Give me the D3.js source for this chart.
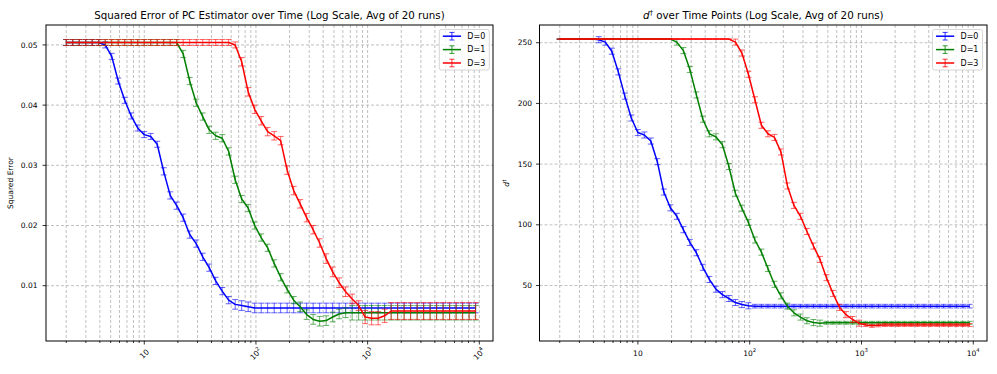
<!DOCTYPE html>
<html><head><meta charset="utf-8">
<script src="https://cdn.jsdelivr.net/npm/d3@7"></script>
<style>body{margin:0;background:#fff} text{font-family:"DejaVu Sans",sans-serif;fill:#000}</style>
</head><body><svg id="c" width="997" height="374"></svg>
<script>
// ---------------- DATA ----------------
const timePoints = [2,2.287,2.615,2.99,3.418,3.908,4.469,5.11,
  5.842,6.68,7.638,8.733,9.985,11.42,13.05,14.92,
  17.06,19.51,22.31,25.51,29.16,33.35,38.13,43.59,
  49.84,56.99,65.16,74.5,85.19,97.4,111.4,127.3,
  145.6,166.5,190.3,217.6,248.8,284.5,325.3,371.9,
  425.3,486.2,556,635.7,726.8,831,950.2,1086,
  1242,1420,1624,1857,2123,2427,2775,3173,
  3628,4148,4743,5423,6201,7090,8106,9269];

const seriesNames = ["D=0","D=1","D=3"];

// Squared error (left panel)
const seD0 = [0.0504,0.0504,0.0504,0.0504,0.0504,0.0504,0.0500,0.0481,
  0.0440,0.0408,0.0382,0.0362,0.0351,0.0348,0.0335,0.0290,
  0.0250,0.0233,0.0213,0.0185,0.0170,0.0148,0.0130,0.0108,
  0.0091,0.0076,0.0069,0.0067,0.0065,0.0063,0.0063,0.0063,
  0.0063,0.0063,0.0063,0.0063,0.0063,0.0063,0.0063,0.0063,
  0.0063,0.0063,0.0063,0.0063,0.0063,0.0063,0.0063,0.0063,
  0.0063,0.0063,0.0063,0.0063,0.0063,0.0063,0.0063,0.0063,
  0.0063,0.0063,0.0063,0.0063,0.0063,0.0063,0.0063,0.0063];
const seErrD0 = [0.0005,0.0005,0.0005,0.0005,0.0005,0.0005,0.0005,0.0005,
  0.0005,0.0005,0.0005,0.0005,0.0005,0.0005,0.0005,0.0006,
  0.0006,0.0006,0.0006,0.0006,0.0006,0.0006,0.0006,0.0006,
  0.0006,0.0006,0.0008,0.0008,0.0008,0.0008,0.0008,0.0008,
  0.0008,0.0008,0.0008,0.0008,0.0008,0.0008,0.0008,0.0008,
  0.0008,0.0008,0.0008,0.0008,0.0008,0.0008,0.0008,0.0008,
  0.0008,0.0008,0.0008,0.0008,0.0008,0.0008,0.0008,0.0008,
  0.0008,0.0008,0.0008,0.0008,0.0008,0.0008,0.0008,0.0008];
const seD1 = [0.0504,0.0504,0.0504,0.0504,0.0504,0.0504,0.0504,0.0504,
  0.0504,0.0504,0.0504,0.0504,0.0504,0.0504,0.0504,0.0504,
  0.0504,0.0504,0.0485,0.0440,0.0404,0.0381,0.0359,0.0349,
  0.0345,0.0323,0.0276,0.0244,0.0229,0.0200,0.0180,0.0163,
  0.0137,0.0114,0.0094,0.0076,0.0065,0.0052,0.0044,0.0041,
  0.0042,0.0048,0.0053,0.0055,0.0055,0.0055,0.0055,0.0055,
  0.0055,0.0055,0.0055,0.0055,0.0055,0.0055,0.0055,0.0055,
  0.0055,0.0055,0.0055,0.0055,0.0055,0.0055,0.0055,0.0055];
const seErrD1 = [0.0005,0.0005,0.0005,0.0005,0.0005,0.0005,0.0005,0.0005,
  0.0005,0.0005,0.0005,0.0005,0.0005,0.0005,0.0005,0.0005,
  0.0005,0.0005,0.0006,0.0006,0.0006,0.0006,0.0006,0.0006,
  0.0006,0.0006,0.0006,0.0006,0.0006,0.0006,0.0006,0.0006,
  0.0006,0.0006,0.0006,0.0006,0.0008,0.0008,0.0008,0.0008,
  0.0008,0.0008,0.0008,0.0008,0.0012,0.0012,0.0012,0.0012,
  0.0012,0.0012,0.0012,0.0012,0.0012,0.0012,0.0012,0.0012,
  0.0012,0.0012,0.0012,0.0012,0.0012,0.0012,0.0012,0.0012];
const seD3 = [0.0504,0.0504,0.0504,0.0504,0.0504,0.0504,0.0504,0.0504,
  0.0504,0.0504,0.0504,0.0504,0.0504,0.0504,0.0504,0.0504,
  0.0504,0.0504,0.0504,0.0504,0.0504,0.0504,0.0504,0.0504,
  0.0504,0.0504,0.0500,0.0472,0.0422,0.0393,0.0374,0.0356,
  0.0349,0.0341,0.0292,0.0258,0.0236,0.0213,0.0193,0.0171,
  0.0145,0.0123,0.0105,0.0090,0.0078,0.0067,0.0048,0.0046,
  0.0046,0.0050,0.0058,0.0058,0.0058,0.0058,0.0058,0.0058,
  0.0058,0.0058,0.0058,0.0058,0.0058,0.0058,0.0058,0.0058];
const seErrD3 = [0.0005,0.0005,0.0005,0.0005,0.0005,0.0005,0.0005,0.0005,
  0.0005,0.0005,0.0005,0.0005,0.0005,0.0005,0.0005,0.0005,
  0.0005,0.0005,0.0005,0.0005,0.0005,0.0005,0.0005,0.0005,
  0.0005,0.0005,0.0005,0.0007,0.0007,0.0007,0.0007,0.0007,
  0.0007,0.0007,0.0007,0.0007,0.0007,0.0007,0.0007,0.0007,
  0.0008,0.0008,0.0008,0.0008,0.0008,0.0008,0.0011,0.0011,
  0.0011,0.0011,0.0014,0.0014,0.0014,0.0014,0.0014,0.0014,
  0.0014,0.0014,0.0014,0.0014,0.0014,0.0014,0.0014,0.0014];

// d-dagger (right panel)
const dD0 = [253,253,253,253,253,253,252.5,250.5,
  243,226,206,188,176,174,169,152,
  127,114,107,96,85.5,77,65,55,
  47,42.5,39.3,36,34.3,33.3,33,33,
  33,33,33,33,33,33,33,33,
  33,33,33,33,33,33,33,33,
  33,33,33,33,33,33,33,33,
  33,33,33,33,33,33,33,33];
const dErrD0 = [0,0,0,0,0,0,2.5,2.5,
  2.5,2.5,2.5,2.5,2.5,2.5,2.5,2.5,
  2.5,2.5,2.5,2.5,2.5,2.5,2.5,2.5,
  2.5,2.5,2.5,2.5,2.5,2.5,1.5,1.5,
  1.5,1.5,1.5,1.5,1.5,1.5,1.5,1.5,
  1.5,1.5,1.5,1.5,1.5,1.5,1.5,1.5,
  1.5,1.5,1.5,1.5,1.5,1.5,1.5,1.5,
  1.5,1.5,1.5,1.5,1.5,1.5,1.5,1.5];
const dD1 = [253,253,253,253,253,253,253,253,
  253,253,253,253,253,253,253,253,
  253,253,250.5,243.5,228,207,187,175,
  172.5,166,148,126,113.7,102,87.5,77.5,
  64,51,41.5,33,27.5,24,21,19.5,
  19,19.3,19.3,19.3,19.3,19.3,19.3,19.3,
  19.3,19.3,19.3,19.3,19.3,19.3,19.3,19.3,
  19.3,19.3,19.3,19.3,19.3,19.3,19.3,19.3];
const dErrD1 = [0,0,0,0,0,0,0,0,
  0,0,0,0,0,0,0,0,
  0,0,2.5,2.5,2.5,2.5,2.5,2.5,
  2.5,2.5,2.5,2.5,2.5,2.5,2.5,2.5,
  2.5,2.5,2.5,2.5,2.5,2.5,2.5,2.5,
  2.5,1.2,1.2,1.2,1.2,1.2,1.2,1.2,
  1.2,1.2,1.2,1.2,1.2,1.2,1.2,1.2,
  1.2,1.2,1.2,1.2,1.2,1.2,1.2,1.2];
const dD3 = [253,253,253,253,253,253,253,253,
  253,253,253,253,253,253,253,253,
  253,253,253,253,253,253,253,253,
  253,253,253,250.5,241.5,224,203,182,
  175,172,160,132,116,107,94.5,82.5,
  71.5,56.5,43.5,32,26,22,19,17.5,
  16.8,17.2,17.5,17.5,17.5,17.5,17.5,17.5,
  17.5,17.5,17.5,17.5,17.5,17.5,17.5,17.5];
const dErrD3 = [0,0,0,0,0,0,0,0,
  0,0,0,0,0,0,0,0,
  0,0,0,0,0,0,0,0,
  0,0,0,2.5,2.5,2.5,2.5,2.5,
  2.5,2.5,2.5,2.5,2.5,2.5,2.5,2.5,
  2.5,2.5,2.5,2.5,2.5,2.5,2.5,1.2,
  1.2,1.2,1.2,1.2,1.2,1.2,1.2,1.2,
  1.2,1.2,1.2,1.2,1.2,1.2,1.2,1.2];

const seYTicks = [0.01,0.02,0.03,0.04,0.05];
const seYTickLabels = ["0.01","0.02","0.03","0.04","0.05"];
const dYTicks = [50,100,150,200,250];
const dYTickLabels = ["50","100","150","200","250"];
const xMajorTicks = [10,100,1000,10000];
const xMajorExponents = ["","2","3","4"];

// ---------------- DRAWING ----------------
const svg = d3.select('#c');
const colors = ['#0000ff','#008000','#ff0000'];
const FS = 7.5;
const xDomain = [1.318, 13265];

function drawPanel(o){
  const g = svg.append('g');
  const x = d3.scaleLog().domain(xDomain).range([o.x0, o.x1]);
  const y = d3.scaleLinear().domain(o.yDomain).range([o.yB, o.yT]);
  const allX = x.ticks();
  const isMajor = v => Math.abs(Math.log10(v) - Math.round(Math.log10(v))) < 1e-9;

  // grid
  g.selectAll('line.gx').data(allX).join('line').attr('class','gx')
    .attr('x1', d=>x(d)).attr('x2', d=>x(d)).attr('y1', o.yT).attr('y2', o.yB)
    .attr('stroke','#b0b0b0').attr('stroke-width',0.8).attr('stroke-dasharray','3,2');
  g.selectAll('line.gy').data(o.yTicks).join('line').attr('class','gy')
    .attr('x1', o.x0).attr('x2', o.x1).attr('y1', d=>y(d)).attr('y2', d=>y(d))
    .attr('stroke','#b0b0b0').attr('stroke-width',0.8).attr('stroke-dasharray','3,2');

  // series
  o.series.forEach((s, k) => {
    const pts = timePoints.map((t,i)=>({t, m:s.mean[i], e:s.err[i]}));
    const eg = g.append('g').attr('stroke', colors[k]).attr('stroke-opacity',0.6).attr('stroke-width',1);
    eg.selectAll('line.v').data(pts).join('line').attr('class','v')
      .attr('x1', d=>x(d.t)).attr('x2', d=>x(d.t)).attr('y1', d=>y(d.m-d.e)).attr('y2', d=>y(d.m+d.e));
    eg.selectAll('line.c1').data(pts).join('line').attr('class','c1')
      .attr('x1', d=>x(d.t)-3).attr('x2', d=>x(d.t)+3).attr('y1', d=>y(d.m-d.e)).attr('y2', d=>y(d.m-d.e));
    eg.selectAll('line.c2').data(pts).join('line').attr('class','c2')
      .attr('x1', d=>x(d.t)-3).attr('x2', d=>x(d.t)+3).attr('y1', d=>y(d.m+d.e)).attr('y2', d=>y(d.m+d.e));
    g.append('path').datum(pts)
      .attr('d', d3.line().x(d=>x(d.t)).y(d=>y(d.m)))
      .attr('fill','none').attr('stroke', colors[k]).attr('stroke-width',1.5).attr('stroke-linejoin','round');
  });

  // frame
  g.append('rect').attr('x', o.x0).attr('y', o.yT).attr('width', o.x1-o.x0).attr('height', o.yB-o.yT)
    .attr('fill','none').attr('stroke','#000').attr('stroke-width',1);

  // x ticks
  g.selectAll('line.tx').data(allX).join('line').attr('class','tx')
    .attr('x1', d=>x(d)).attr('x2', d=>x(d)).attr('y1', o.yB).attr('y2', d=>o.yB + (isMajor(d)?3.5:2))
    .attr('stroke','#000').attr('stroke-width',0.8);
  // y ticks
  g.selectAll('line.ty').data(o.yTicks).join('line').attr('class','ty')
    .attr('x1', o.x0-3.5).attr('x2', o.x0).attr('y1', d=>y(d)).attr('y2', d=>y(d))
    .attr('stroke','#000').attr('stroke-width',0.8);
  g.selectAll('text.ly').data(o.yTicks).join('text').attr('class','ly')
    .attr('x', o.x0-o.yLabGap).attr('y', d=>y(d)).attr('dy','0.35em')
    .attr('text-anchor','end').attr('font-size',FS).text((d,i)=>o.yTickLabels[i]);

  // x labels
  xMajorTicks.forEach((v,i)=>{
    let t;
    if (o.rotate) {
      t = g.append('text').attr('transform', `translate(${x(v)},${o.yB+13}) rotate(-45)`)
        .attr('text-anchor','middle').attr('dy','0.35em').attr('font-size',FS);
    } else {
      t = g.append('text').attr('x', x(v)).attr('y', o.yB+14.5)
        .attr('text-anchor','middle').attr('font-size',FS);
    }
    t.append('tspan').text('10');
    if (xMajorExponents[i]) t.append('tspan').attr('dy',-3.5).attr('font-size',5.3).text(xMajorExponents[i]);
  });

  // title
  const tt = g.append('text').attr('x', (o.x0+o.x1)/2).attr('y', 18.5).attr('text-anchor','middle').attr('font-size',10.3);
  o.title(tt);

  // y label
  const yl = g.append('text').attr('transform', `translate(${o.yLabX},${(o.yT+o.yB)/2}) rotate(-90)`)
    .attr('text-anchor','middle').attr('font-size',FS);
  o.ylabel(yl);

  // legend
  const L = g.append('g').attr('transform', `translate(${o.legX},29.5)`);
  L.append('rect').attr('width',50).attr('height',40.5).attr('rx',2)
    .attr('fill','#fff').attr('fill-opacity',0.8).attr('stroke','#ccc').attr('stroke-width',0.8);
  seriesNames.forEach((nm,k)=>{
    const yy = 6.7 + k*13.4;
    L.append('line').attr('x1',3.5).attr('x2',21.7).attr('y1',yy).attr('y2',yy).attr('stroke',colors[k]).attr('stroke-width',1.5);
    const eg = L.append('g').attr('stroke',colors[k]).attr('stroke-width',1).attr('stroke-opacity',0.8);
    eg.append('line').attr('x1',12.6).attr('x2',12.6).attr('y1',yy-3.8).attr('y2',yy+3.8);
    eg.append('line').attr('x1',10.1).attr('x2',15.1).attr('y1',yy-3.8).attr('y2',yy-3.8);
    eg.append('line').attr('x1',10.1).attr('x2',15.1).attr('y1',yy+3.8).attr('y2',yy+3.8);
    L.append('text').attr('x',28).attr('y',yy).attr('dy','0.35em').attr('font-size',8).text(nm);
  });
}

drawPanel({
  x0:46, x1:493, yT:25, yB:341, yDomain:[0.000814, 0.05331],
  yTicks: seYTicks, yTickLabels: seYTickLabels, yLabGap: 8.5, rotate:true, yLabX: 12.5, legX: 439.3,
  series:[{mean:seD0, err:seErrD0},{mean:seD1, err:seErrD1},{mean:seD3, err:seErrD3}],
  title: t => t.text('Squared Error of PC Estimator over Time (Log Scale, Avg of 20 runs)'),
  ylabel: t => t.text('Squared Error')
});
drawPanel({
  x0:539.5, x1:987, yT:25, yB:341, yDomain:[4.3, 264.6],
  yTicks: dYTicks, yTickLabels: dYTickLabels, yLabGap: 7.5, rotate:false, yLabX: 509, legX: 932.5,
  series:[{mean:dD0, err:dErrD0},{mean:dD1, err:dErrD1},{mean:dD3, err:dErrD3}],
  title: t => { t.append('tspan').attr('font-style','italic').text('d');
                t.append('tspan').attr('dy',-4).attr('font-size',7).text('\u2020');
                t.append('tspan').attr('dy',4).text(' over Time Points (Log Scale, Avg of 20 runs)'); },
  ylabel: t => { t.append('tspan').attr('font-style','italic').text('d');
                 t.append('tspan').attr('dy',-3).attr('font-size',5).text('\u2020'); }
});
</script></body></html>
